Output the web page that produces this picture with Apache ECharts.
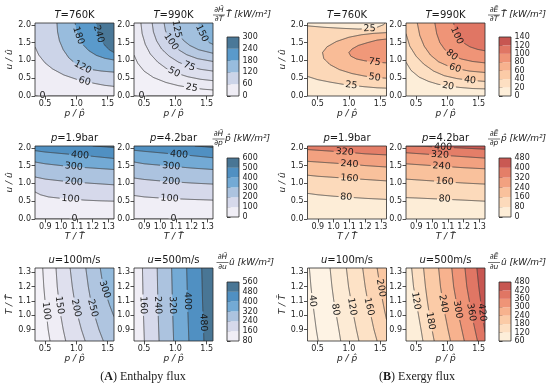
<!DOCTYPE html>
<html><head><meta charset="utf-8">
<script src="https://cdn.jsdelivr.net/npm/echarts@6/dist/echarts.min.js"></script>
<style>html,body{margin:0;padding:0;background:#fff}#c{width:550px;height:387px}</style>
</head><body><div id="c"></div>
<script>
// ================= DATA =================
const P_TICKS = [0.5, 1.0, 1.5];
const U_TICKS = [0.0, 0.5, 1.0, 1.5, 2.0];
const T_TICKS = [0.9, 1.0, 1.1, 1.2, 1.3];
const P_RANGE = [0.34, 1.6];
const U_RANGE = [0, 2.05];
const TX_RANGE = [0.835, 1.335];
const TY_RANGE = [0.82, 1.33];

const A_TITLES = [['T','=760K'],['T','=990K'],['p','=1.9bar'],['p','=4.2bar'],['u','=100m/s'],['u','=500m/s']];
const B_TITLES = A_TITLES;
const X_NAMES = ['p / p\u0302', 'T / T\u0302', 'p / p\u0302'];
const Y_NAMES = ['u / \u00fb', 'u / \u00fb', 'T / T\u0302'];
const CB_NUM = {A:'\u2202H\u0304', B:'\u2202E\u0304'};
const CB_DEN = ['\u2202T','\u2202p','\u2202u'];
const CB_MUL = ['T\u0302','p\u0302','\u00fb'];
const CAPTIONS = {A:['A',' Enthalpy flux'], B:['B',' Exergy flux']};

// colorbar levels
const CB_A1 = [0,60,120,180,240,300];
const CB_B1 = [0,20,40,60,80,100,120,140];
const CB_A2 = [0,100,200,300,400,500,600];
const CB_B2 = [0,80,160,240,320,400,480];
const CB_A3 = [80,160,240,320,400,480,560];
const CB_B3 = [60,120,180,240,300,360,420,480];

// contour lines: level, points [x,y], label anchor
const A1_lines = [
 {lv:0, pts:[[0.34,0],[1.6,0]], lab:[0.46,0], nofill:true},
 {lv:60, pts:[[0.34,1.38],[0.4,1.15],[0.5,0.93],[0.62,0.76],[0.8,0.59],[1.0,0.47],[1.13,0.41],[1.3,0.35],[1.45,0.3],[1.6,0.27]], lab:[1.13,0.41]},
 {lv:120, pts:[[0.69,2.05],[0.7,1.8],[0.73,1.55],[0.79,1.3],[0.88,1.07],[0.98,0.92],[1.1,0.81],[1.25,0.74],[1.4,0.7],[1.6,0.67]], lab:[1.1,0.81]},
 {lv:180, pts:[[0.98,2.05],[1.0,1.85],[1.04,1.65],[1.1,1.45],[1.2,1.27],[1.32,1.14],[1.45,1.06],[1.6,1.01]], lab:[1.03,1.7]},
 {lv:240, pts:[[1.32,2.05],[1.335,1.88],[1.36,1.72],[1.4,1.56],[1.46,1.41],[1.53,1.29],[1.6,1.22]], lab:[1.355,1.74]}
];
const A2_lines = [
 {lv:0, pts:[[0.34,0],[1.6,0]], lab:[0.46,0], nofill:true},
 {lv:25, pts:[[0.34,1.15],[0.4,0.92],[0.5,0.7],[0.65,0.52],[0.85,0.38],[1.05,0.29],[1.26,0.23],[1.45,0.19],[1.6,0.17]], lab:[1.26,0.23]},
 {lv:50, pts:[[0.45,2.05],[0.47,1.75],[0.52,1.45],[0.6,1.18],[0.72,0.95],[0.85,0.78],[1.0,0.65],[1.2,0.54],[1.4,0.47],[1.6,0.43]], lab:[0.98,0.665]},
 {lv:75, pts:[[0.63,2.05],[0.65,1.8],[0.7,1.55],[0.78,1.32],[0.9,1.12],[1.05,0.95],[1.22,0.83],[1.4,0.75],[1.6,0.7]], lab:[1.22,0.83]},
 {lv:100, pts:[[0.82,2.05],[0.84,1.85],[0.88,1.65],[0.95,1.47],[1.05,1.3],[1.18,1.16],[1.35,1.05],[1.6,0.97]], lab:[0.93,1.52]},
 {lv:125, pts:[[1.0,2.05],[1.02,1.88],[1.06,1.72],[1.13,1.56],[1.23,1.42],[1.37,1.3],[1.6,1.2]], lab:[1.02,1.88]},
 {lv:150, pts:[[1.36,2.05],[1.38,1.9],[1.42,1.75],[1.48,1.6],[1.54,1.5],[1.6,1.45]], lab:[1.42,1.76]}
];
const A3_lines = [
 {lv:0, pts:[[0.835,0],[1.335,0]], lab:[1.085,0], nofill:true},
 {lv:100, pts:[[0.835,0.76],[0.87,0.68],[0.92,0.62],[1.0,0.58],[1.06,0.56],[1.15,0.53],[1.25,0.51],[1.335,0.5]], lab:[1.06,0.56]},
 {lv:200, pts:[[0.835,1.18],[0.9,1.12],[1.0,1.07],[1.1,1.03],[1.2,1.0],[1.335,0.96]], lab:[1.08,1.04]},
 {lv:300, pts:[[0.835,1.6],[0.9,1.55],[1.0,1.5],[1.1,1.46],[1.2,1.43],[1.335,1.39]], lab:[1.08,1.47]},
 {lv:400, pts:[[0.835,1.92],[0.9,1.88],[1.0,1.84],[1.1,1.8],[1.2,1.76],[1.335,1.7]], lab:[1.12,1.79]},
 {lv:500, pts:[[1.2,2.05],[1.27,2.03],[1.335,2.01]]}
];
const A4_lines = [
 {lv:0, pts:[[0.835,0],[1.335,0]], lab:[1.085,0], nofill:true},
 {lv:100, pts:[[0.835,0.66],[0.9,0.62],[1.0,0.59],[1.06,0.575],[1.2,0.55],[1.335,0.53]], lab:[1.06,0.575]},
 {lv:200, pts:[[0.835,1.15],[0.9,1.11],[1.0,1.07],[1.1,1.04],[1.2,1.01],[1.335,0.98]], lab:[1.07,1.05]},
 {lv:300, pts:[[0.835,1.6],[0.9,1.55],[1.0,1.51],[1.1,1.47],[1.2,1.43],[1.335,1.39]], lab:[1.07,1.48]},
 {lv:400, pts:[[0.835,1.93],[0.9,1.9],[1.0,1.86],[1.1,1.82],[1.2,1.78],[1.335,1.72]], lab:[1.12,1.81]},
 {lv:500, pts:[[1.22,2.05],[1.28,2.03],[1.335,2.01]]}
];
const A5_lines = [
 {lv:100, pts:[[0.463,1.333],[0.48,1.2],[0.5,1.1],[0.525,1.0],[0.55,0.9],[0.58,0.82]], lab:[0.52,1.03]},
 {lv:150, pts:[[0.675,1.333],[0.695,1.2],[0.72,1.1],[0.75,1.0],[0.79,0.9],[0.83,0.82]], lab:[0.73,1.07]},
 {lv:200, pts:[[0.9,1.333],[0.935,1.2],[0.97,1.1],[1.02,1.0],[1.08,0.9],[1.14,0.82]], lab:[0.995,1.05]},
 {lv:250, pts:[[1.15,1.333],[1.19,1.2],[1.23,1.1],[1.29,1.0],[1.36,0.9],[1.43,0.82]], lab:[1.26,1.05]},
 {lv:300, pts:[[1.38,1.333],[1.42,1.22],[1.47,1.15],[1.53,1.07],[1.6,0.99]], lab:[1.45,1.18]}
];
const A6_lines = [
 {lv:160, pts:[[0.475,1.333],[0.485,1.1],[0.495,0.95],[0.505,0.82]], lab:[0.487,1.07]},
 {lv:240, pts:[[0.71,1.333],[0.72,1.1],[0.73,0.95],[0.74,0.82]], lab:[0.72,1.07]},
 {lv:320, pts:[[0.94,1.333],[0.952,1.1],[0.962,0.95],[0.972,0.82]], lab:[0.952,1.07]},
 {lv:400, pts:[[1.18,1.333],[1.193,1.1],[1.205,0.95],[1.215,0.82]], lab:[1.193,1.1]},
 {lv:480, pts:[[1.42,1.333],[1.433,1.1],[1.445,0.95],[1.455,0.82]], lab:[1.445,0.95]}
];
const B1_lines = [
 {lv:25, pts:[[0.34,1.97],[0.6,1.93],[0.9,1.9],[1.15,1.88],[1.33,1.89],[1.45,1.93],[1.55,2.0],[1.58,2.05]], lab:[1.33,1.89], ref:[0.34,2.05], band:12.5},
 {lv:25, pts:[[0.34,0.55],[0.5,0.46],[0.7,0.39],[0.9,0.33],[1.04,0.3],[1.25,0.26],[1.45,0.23],[1.6,0.22]], lab:[1.04,0.3], ref:[0.34,0], band:12.5},
 {lv:50, pts:[[1.6,1.78],[1.4,1.76],[1.2,1.72],[1.0,1.65],[0.8,1.53],[0.65,1.38],[0.58,1.22],[0.6,1.05],[0.7,0.88],[0.85,0.74],[1.05,0.63],[1.25,0.56],[1.41,0.52],[1.6,0.5]], lab:[1.41,0.52]},
 {lv:75, pts:[[1.6,1.6],[1.45,1.57],[1.3,1.5],[1.15,1.42],[1.05,1.32],[1.0,1.22],[1.03,1.12],[1.12,1.04],[1.25,0.99],[1.41,0.95],[1.6,0.93]], lab:[1.41,0.95]}
];
const B2_lines = [
 {lv:20, pts:[[0.34,0.95],[0.42,0.72],[0.55,0.53],[0.7,0.41],[0.85,0.33],[1.01,0.28],[1.2,0.24],[1.4,0.21],[1.6,0.2]], lab:[1.01,0.28]},
 {lv:40, pts:[[0.34,1.75],[0.4,1.4],[0.5,1.12],[0.62,0.9],[0.78,0.7],[0.95,0.57],[1.15,0.49],[1.36,0.44],[1.6,0.41]], lab:[1.36,0.44]},
 {lv:60, pts:[[0.52,2.05],[0.56,1.7],[0.63,1.4],[0.73,1.15],[0.86,0.96],[1.0,0.85],[1.12,0.78],[1.35,0.7],[1.6,0.66]], lab:[1.12,0.78]},
 {lv:80, pts:[[0.8,2.05],[0.83,1.75],[0.88,1.5],[0.96,1.3],[1.07,1.15],[1.22,1.04],[1.4,0.97],[1.6,0.93]], lab:[1.07,1.15]},
 {lv:100, pts:[[1.1,2.05],[1.12,1.85],[1.17,1.65],[1.25,1.5],[1.36,1.38],[1.48,1.31],[1.6,1.27]], lab:[1.15,1.7]}
];
const B3_lines = [
 {lv:80, pts:[[0.835,0.72],[0.9,0.68],[1.0,0.64],[1.1,0.61],[1.2,0.58],[1.335,0.55]], lab:[1.08,0.615]},
 {lv:160, pts:[[0.835,1.23],[0.9,1.2],[1.0,1.17],[1.1,1.14],[1.2,1.11],[1.335,1.07]], lab:[1.1,1.14]},
 {lv:240, pts:[[0.835,1.62],[0.9,1.6],[1.0,1.57],[1.1,1.54],[1.2,1.5],[1.335,1.46]], lab:[1.1,1.54]},
 {lv:320, pts:[[0.835,1.95],[0.9,1.93],[1.0,1.9],[1.1,1.87],[1.2,1.83],[1.335,1.8]], lab:[1.07,1.88]}
];
const B4_lines = [
 {lv:80, pts:[[0.835,0.6],[0.9,0.59],[1.0,0.57],[1.1,0.55],[1.2,0.53],[1.335,0.5]], lab:[1.08,0.56]},
 {lv:160, pts:[[0.835,1.12],[0.9,1.1],[1.0,1.07],[1.1,1.04],[1.2,1.01],[1.335,0.98]], lab:[1.08,1.05]},
 {lv:240, pts:[[0.835,1.55],[0.9,1.53],[1.0,1.5],[1.1,1.47],[1.2,1.44],[1.335,1.41]], lab:[1.06,1.48]},
 {lv:320, pts:[[0.835,1.86],[0.9,1.84],[1.0,1.81],[1.1,1.78],[1.2,1.75],[1.335,1.71]], lab:[1.05,1.8]},
 {lv:400, pts:[[0.835,2.05],[0.95,2.04],[1.05,2.02],[1.15,2.0],[1.25,1.98],[1.335,1.96]], lab:[1.07,2.02]}
];
const B5_lines = [
 {lv:40, pts:[[0.37,1.333],[0.395,1.2],[0.42,1.1],[0.45,1.0],[0.48,0.9],[0.51,0.82]], lab:[0.42,1.1]},
 {lv:80, pts:[[0.7,1.333],[0.73,1.2],[0.76,1.1],[0.8,1.0],[0.84,0.9],[0.87,0.82]], lab:[0.785,1.04]},
 {lv:120, pts:[[0.96,1.333],[0.995,1.2],[1.035,1.1],[1.075,1.0],[1.12,0.9],[1.16,0.82]], lab:[1.05,1.06]},
 {lv:160, pts:[[1.22,1.333],[1.26,1.2],[1.3,1.1],[1.35,1.0],[1.4,0.9],[1.45,0.82]], lab:[1.32,1.06]},
 {lv:200, pts:[[1.45,1.333],[1.49,1.22],[1.53,1.12],[1.57,1.03],[1.6,0.97]], lab:[1.51,1.19]}
];
const B6_lines = [
 {lv:120, pts:[[0.43,1.333],[0.46,1.2],[0.5,1.1],[0.54,1.0],[0.58,0.9],[0.61,0.82]], lab:[0.5,1.1]},
 {lv:180, pts:[[0.62,1.333],[0.65,1.2],[0.68,1.1],[0.715,1.0],[0.755,0.9],[0.79,0.82]], lab:[0.73,0.96]},
 {lv:240, pts:[[0.86,1.333],[0.89,1.2],[0.925,1.1],[0.965,1.0],[1.01,0.9],[1.05,0.82]], lab:[0.935,1.08]},
 {lv:300, pts:[[1.07,1.333],[1.1,1.2],[1.14,1.1],[1.18,1.0],[1.23,0.9],[1.27,0.82]], lab:[1.165,1.04]},
 {lv:360, pts:[[1.28,1.333],[1.31,1.2],[1.35,1.1],[1.39,1.0],[1.44,0.9],[1.48,0.82]], lab:[1.38,1.02]},
 {lv:420, pts:[[1.47,1.333],[1.5,1.2],[1.53,1.1],[1.56,1.0],[1.6,0.88]], lab:[1.555,1.02]}
];

// ================= STYLE / LAYOUT =================
const FONT = 'DejaVu Sans';
const FS_TICK = 8, FS_TITLE = 10, FS_NAME = 9, FS_CL = 9.5;
const ROW_TOP = [23, 146, 268], PH = 73, PW = 79;
const COL_LEFT = {A:[35,134], B:[307.5,406]};
const CB_LEFT = {A:227, B:499}, CB_TOP = [37,158,282], CB_H = 59, CB_W = 12;
const CBT_FX = {A:[219,218.5,222.5], B:[494,494,494]};
const CBT_TX = {A:[226,225,229], B:[501,501,501]};
const CBT_FY = [15,139,262.5];

const BLUE_STOPS = [[0,'#f4f2f8'],[0.1,'#efedf5'],[0.25,'#d6d9eb'],[0.3,'#ccd4e8'],[0.42,'#abc3df'],[0.5,'#98bcdd'],[0.58,'#74aad5'],[0.7,'#5a9acb'],[0.75,'#5090c2'],[0.9,'#4a7898'],[1,'#456a88']];
const RED_STOPS = [[0,'#fef3e4'],[0.07,'#fdeed9'],[0.21,'#fde0c3'],[0.36,'#fbcba6'],[0.5,'#f7b28e'],[0.64,'#ef9577'],[0.79,'#e07563'],[0.93,'#c75651'],[1,'#b94a48']];

const PLOTS = [
 {side:'A',row:0,col:0,lines:A1_lines,fam:'b',norm:[0,300],step:60,bg:30,hi:[1.6,2.05],title:A_TITLES[0]},
 {side:'A',row:0,col:1,lines:A2_lines,fam:'b',norm:[0,300],step:25,bg:12.5,hi:[1.6,2.05],title:A_TITLES[1]},
 {side:'A',row:1,col:0,lines:A3_lines,fam:'b',norm:[0,600],step:100,bg:50,hi:[1.335,2.05],title:A_TITLES[2]},
 {side:'A',row:1,col:1,lines:A4_lines,fam:'b',norm:[0,600],step:100,bg:50,hi:[1.335,2.05],title:A_TITLES[3]},
 {side:'A',row:2,col:0,lines:A5_lines,fam:'b',norm:[80,560],step:50,bg:75,hi:[1.6,1.33],title:A_TITLES[4]},
 {side:'A',row:2,col:1,lines:A6_lines,fam:'b',norm:[80,560],step:80,bg:120,hi:[1.6,1.33],title:A_TITLES[5]},
 {side:'B',row:0,col:0,lines:B1_lines,fam:'r',norm:[0,140],step:25,bg:37.5,hi:[1.6,1.2],title:B_TITLES[0]},
 {side:'B',row:0,col:1,lines:B2_lines,fam:'r',norm:[0,140],step:20,bg:10,hi:[1.6,2.05],title:B_TITLES[1]},
 {side:'B',row:1,col:0,lines:B3_lines,fam:'r',norm:[0,480],step:80,bg:40,hi:[1.335,2.05],title:B_TITLES[2]},
 {side:'B',row:1,col:1,lines:B4_lines,fam:'r',norm:[0,480],step:80,bg:40,hi:[1.335,2.05],title:B_TITLES[3]},
 {side:'B',row:2,col:0,lines:B5_lines,fam:'r',norm:[60,480],step:40,bg:20,hi:[1.6,1.33],title:B_TITLES[4]},
 {side:'B',row:2,col:1,lines:B6_lines,fam:'r',norm:[60,480],step:60,bg:90,hi:[1.6,1.33],title:B_TITLES[5]}
];
const CBARS = [
 {side:'A',row:0,lv:CB_A1,fam:'b'},{side:'A',row:1,lv:CB_A2,fam:'b'},{side:'A',row:2,lv:CB_A3,fam:'b'},
 {side:'B',row:0,lv:CB_B1,fam:'r'},{side:'B',row:1,lv:CB_B2,fam:'r'},{side:'B',row:2,lv:CB_B3,fam:'r'}
];

// ================= HELPERS =================
function hex2rgb(h){h=h.replace('#','');return [0,2,4].map(i=>parseInt(h.substr(i,2),16));}
function cmap(fam, v, norm){
  const stops = fam==='b'?BLUE_STOPS:RED_STOPS;
  let t=(v-norm[0])/(norm[1]-norm[0]); t=Math.max(0,Math.min(1,t));
  for(let i=0;i<stops.length-1;i++){
    const [t0,c0]=stops[i],[t1,c1]=stops[i+1];
    if(t<=t1){const f=(t-t0)/(t1-t0);const a=hex2rgb(c0),b=hex2rgb(c1);
      return 'rgb('+a.map((x,j)=>Math.round(x+(b[j]-x)*f)).join(',')+')';}
  }
  return stops[stops.length-1][1];
}
function snapEnd(p,xr,yr){
  const dx=xr[1]-xr[0],dy=yr[1]-yr[0];
  const d=[Math.abs(p[1]-yr[0])/dy,Math.abs(p[0]-xr[1])/dx,Math.abs(p[1]-yr[1])/dy,Math.abs(p[0]-xr[0])/dx];
  let e=0;for(let i=1;i<4;i++)if(d[i]<d[e])e=i;
  const q=[Math.min(xr[1],Math.max(xr[0],p[0])),Math.min(yr[1],Math.max(yr[0],p[1]))];
  if(e===0)q[1]=yr[0];else if(e===1)q[0]=xr[1];else if(e===2)q[1]=yr[1];else q[0]=xr[0];
  const t= e===0?(q[0]-xr[0])/dx : e===1?1+(q[1]-yr[0])/dy : e===2?2+(xr[1]-q[0])/dx : 3+(yr[1]-q[1])/dy;
  return {q,t};
}
function mod4(a){return ((a%4)+4)%4;}
function regionPolys(pts,xr,yr){
  const s=snapEnd(pts[0],xr,yr),e=snapEnd(pts[pts.length-1],xr,yr);
  const body=[s.q,...pts.slice(1,-1),e.q];
  const C=[[xr[0],yr[0]],[xr[1],yr[0]],[xr[1],yr[1]],[xr[0],yr[1]]];
  const dF=mod4(s.t-e.t)||4, dB=mod4(e.t-s.t)||4;
  const fw=[0,1,2,3].map(c=>({c,d:mod4(c-e.t)})).filter(o=>o.d>1e-9&&o.d<dF-1e-9).sort((a,b)=>a.d-b.d).map(o=>C[o.c]);
  const bw=[0,1,2,3].map(c=>({c,d:mod4(e.t-c)})).filter(o=>o.d>1e-9&&o.d<dB-1e-9).sort((a,b)=>a.d-b.d).map(o=>C[o.c]);
  return [body.concat(fw),body.concat(bw)];
}
function pip(pt,poly){let ins=false;for(let i=0,j=poly.length-1;i<poly.length;j=i++){const[xi,yi]=poly[i],[xj,yj]=poly[j];
  if(((yi>pt[1])!==(yj>pt[1]))&&(pt[0]<(xj-xi)*(pt[1]-yi)/(yj-yi)+xi))ins=!ins;}return ins;}
function buildLayers(P,xr,yr){
  const layers=[{poly:[[xr[0],yr[0]],[xr[1],yr[0]],[xr[1],yr[1]],[xr[0],yr[1]]],color:cmap(P.fam,P.bg,P.norm)}];
  const cx=(xr[0]+xr[1])/2, cy=(yr[0]+yr[1])/2;
  P.lines.forEach(l=>{
    if(l.nofill)return;
    const [a,b]=regionPolys(l.pts,xr,yr);
    const r0=l.ref||P.hi; const r=[r0[0]+(cx-r0[0])*0.004, r0[1]+(cy-r0[1])*0.004];
    layers.push({poly:pip(r,a)?a:b,color:cmap(P.fam,l.band!=null?l.band:l.lv+P.step/2,P.norm)});
  });
  return layers;
}
function labW(txt){return txt.length*FS_CL*0.64;}
function cutCircle(px,c,r){
  const out=[];let cur=[];
  for(let i=0;i<px.length-1;i++){
    const a=px[i],b=px[i+1];const L=Math.hypot(b[0]-a[0],b[1]-a[1]);const n=Math.max(1,Math.ceil(L/0.5));
    for(let k=(i===0?0:1);k<=n;k++){const t=k/n;const p=[a[0]+(b[0]-a[0])*t,a[1]+(b[1]-a[1])*t];
      if(Math.hypot(p[0]-c[0],p[1]-c[1])<r){if(cur.length>1)out.push(cur);cur=[];}else cur.push(p);}
  }
  if(cur.length>1)out.push(cur);
  return out;
}
function segDist(p,a,b){const vx=b[0]-a[0],vy=b[1]-a[1];const L2=vx*vx+vy*vy||1e-9;let t=((p[0]-a[0])*vx+(p[1]-a[1])*vy)/L2;t=Math.max(0,Math.min(1,t));return Math.hypot(p[0]-a[0]-t*vx,p[1]-a[1]-t*vy);}
function labAngle(px,c){
  let best=1e9,ang=0;
  for(let i=0;i<px.length-1;i++){const d=segDist(c,px[i],px[i+1]);if(d<best){best=d;ang=Math.atan2(-(px[i+1][1]-px[i][1]),px[i+1][0]-px[i][0]);}}
  if(ang>Math.PI/2)ang-=Math.PI; if(ang<=-Math.PI/2)ang+=Math.PI;
  return ang;
}
function snapLine(pts,xr,yr){return [snapEnd(pts[0],xr,yr).q,...pts.slice(1,-1),snapEnd(pts[pts.length-1],xr,yr).q];}

// ================= OPTION =================
const option={animation:false,backgroundColor:'#ffffff',grid:[],xAxis:[],yAxis:[],series:[],graphic:[]};
const tickStyle={color:'#222',fontSize:FS_TICK,fontFamily:FONT};
function axis(i,range,ticks,name,dim){
  const isX=dim==='x';
  return {type:'value',gridIndex:i,min:range[0],max:range[1],position:isX?'bottom':'left',
    axisLine:{show:false},splitLine:{show:false},
    axisTick:{show:true,inside:false,length:3.5,customValues:ticks,lineStyle:{color:'#222',width:0.8}},
    axisLabel:Object.assign({customValues:ticks,margin:isX?3.5:4,formatter:v=>Number(v).toFixed(1)},tickStyle),
    name:name,nameLocation:'middle',nameGap:isX?13.5:18.5,nameRotate:isX?0:90,
    nameTextStyle:{fontSize:FS_NAME,fontStyle:'italic',fontFamily:FONT,color:'#222'}};
}
PLOTS.forEach((P,i)=>{
  const left=COL_LEFT[P.side][P.col], top=ROW_TOP[P.row];
  option.grid.push({left,top,width:PW,height:PH,outerBoundsMode:'none'});
  const xr=P.row===1?TX_RANGE:P_RANGE, yr=P.row===2?TY_RANGE:U_RANGE;
  const xt=P.row===1?T_TICKS:P_TICKS, yt=P.row===2?T_TICKS:U_TICKS;
  option.xAxis.push(axis(i,xr,xt,X_NAMES[P.row],'x'));
  option.yAxis.push(axis(i,yr,yt,P.col===0?Y_NAMES[P.row]:'','y'));
  const layers=buildLayers(P,xr,yr);
  option.series.push({type:'custom',xAxisIndex:i,yAxisIndex:i,clip:true,silent:true,z:1,
    data:layers.map((l,k)=>[xr[0],yr[0],k]),
    renderItem:(params,api)=>{const L=layers[params.dataIndex];
      return {type:'polygon',shape:{points:L.poly.map(p=>api.coord(p))},style:{fill:L.color}};}});
  const lines=P.lines.map(l=>Object.assign({},l,{spts:snapLine(l.pts,xr,yr)}));
  option.series.push({type:'custom',xAxisIndex:i,yAxisIndex:i,clip:true,silent:true,z:2,
    data:lines.map((l,k)=>[xr[0],yr[0],k]),
    renderItem:(params,api)=>{const l=lines[params.dataIndex];
      const px=l.spts.map(p=>api.coord(p));
      let pieces=[px];
      if(l.lab){pieces=cutCircle(px,api.coord(l.lab),labW(String(l.lv))/2+1.5);}
      return {type:'group',children:pieces.map(pc=>({type:'polyline',shape:{points:pc},style:{stroke:'#3c3c3c',lineWidth:0.8,fill:null}}))};}});
  const labs=lines.filter(l=>l.lab);
  option.series.push({type:'custom',xAxisIndex:i,yAxisIndex:i,clip:false,silent:true,z:3,
    data:labs.map((l,k)=>[xr[0],yr[0],k]).concat([[xr[0],yr[0],-1]]),
    renderItem:(params,api)=>{
      if(params.dataIndex===labs.length){const cs=params.coordSys;
        return {type:'rect',shape:{x:cs.x,y:cs.y,width:cs.width,height:cs.height},style:{fill:null,stroke:'#2a2a2a',lineWidth:0.8}};}
      const l=labs[params.dataIndex];const px=l.spts.map(p=>api.coord(p));const c=api.coord(l.lab);
      return {type:'text',x:c[0],y:c[1],rotation:labAngle(px,c),
        style:{text:String(l.lv),fontSize:FS_CL,fontFamily:FONT,fill:'#1a1a1a',align:'center',verticalAlign:'middle'}};}});
  option.graphic.push({type:'text',x:left+PW/2,y:top-7.5,silent:true,
    style:{text:'{i|'+P.title[0]+'}'+P.title[1],align:'center',verticalAlign:'middle',fontSize:FS_TITLE,fontFamily:FONT,fill:'#1a1a1a',
      rich:{i:{fontStyle:'italic',fontSize:FS_TITLE,fontFamily:FONT,fill:'#1a1a1a'}}}});
});
CBARS.forEach((C,j)=>{
  const gi=PLOTS.length+j;
  option.grid.push({left:CB_LEFT[C.side],top:CB_TOP[C.row],width:CB_W,height:CB_H,outerBoundsMode:'none'});
  const step=C.lv[1]-C.lv[0];
  option.xAxis.push({type:'value',gridIndex:gi,min:0,max:1,show:false});
  option.yAxis.push({type:'value',gridIndex:gi,min:C.lv[0],max:C.lv[C.lv.length-1],interval:step,position:'right',
    axisLine:{show:false},splitLine:{show:false},
    axisTick:{show:true,inside:false,length:3.5,lineStyle:{color:'#222',width:0.8}},
    axisLabel:Object.assign({margin:3.5},tickStyle)});
  const norm=[C.lv[0],C.lv[C.lv.length-1]];
  const bands=C.lv.slice(0,-1).map((v,k)=>[v,C.lv[k+1]]);
  option.series.push({type:'custom',xAxisIndex:gi,yAxisIndex:gi,clip:false,silent:true,z:2,
    data:bands.map((b,k)=>[0,b[0],k]).concat([[0,0,-1]]),
    renderItem:(params,api)=>{
      const cs=params.coordSys;
      if(params.dataIndex===bands.length)return {type:'rect',shape:{x:cs.x,y:cs.y,width:cs.width,height:cs.height},style:{fill:null,stroke:'#2a2a2a',lineWidth:0.8}};
      const b=bands[params.dataIndex];const p0=api.coord([0,b[0]]),p1=api.coord([1,b[1]]);
      return {type:'rect',shape:{x:p0[0],y:p1[1],width:p1[0]-p0[0],height:p0[1]-p1[1]},style:{fill:cmap(C.fam,(b[0]+b[1])/2,norm)}};}});
  const fx=CBT_FX[C.side][C.row], fy=CBT_FY[C.row], tx=CBT_TX[C.side][C.row];
  option.graphic.push({type:'text',x:fx,y:fy-1,silent:true,style:{text:CB_NUM[C.side],align:'center',verticalAlign:'bottom',fontSize:7.5,fontStyle:'italic',fontFamily:FONT,fill:'#1a1a1a'}});
  option.graphic.push({type:'line',silent:true,shape:{x1:fx-6,y1:fy,x2:fx+6,y2:fy},style:{stroke:'#1a1a1a',lineWidth:0.6}});
  option.graphic.push({type:'text',x:fx,y:fy+0.5,silent:true,style:{text:CB_DEN[C.row],align:'center',verticalAlign:'top',fontSize:7.5,fontStyle:'italic',fontFamily:FONT,fill:'#1a1a1a'}});
  option.graphic.push({type:'text',x:tx,y:fy,silent:true,style:{text:CB_MUL[C.row]+' [kW/m\u00b2]',align:'left',verticalAlign:'middle',fontSize:9,fontStyle:'italic',fontFamily:FONT,fill:'#1a1a1a'}});
});
[['A',143],['B',417]].forEach(([s,x])=>{
  option.graphic.push({type:'text',x:x,y:376.5,silent:true,style:{text:'({b|'+CAPTIONS[s][0]+'})'+CAPTIONS[s][1],align:'center',verticalAlign:'middle',
    fontSize:12,fontFamily:'Liberation Serif',fill:'#1a1a1a',rich:{b:{fontWeight:'bold',fontSize:12,fontFamily:'Liberation Serif',fill:'#1a1a1a'}}}});
});

const chart=echarts.init(document.getElementById('c'),null,{renderer:'canvas',width:550,height:387});
chart.setOption(option);
</script>
</body></html>
